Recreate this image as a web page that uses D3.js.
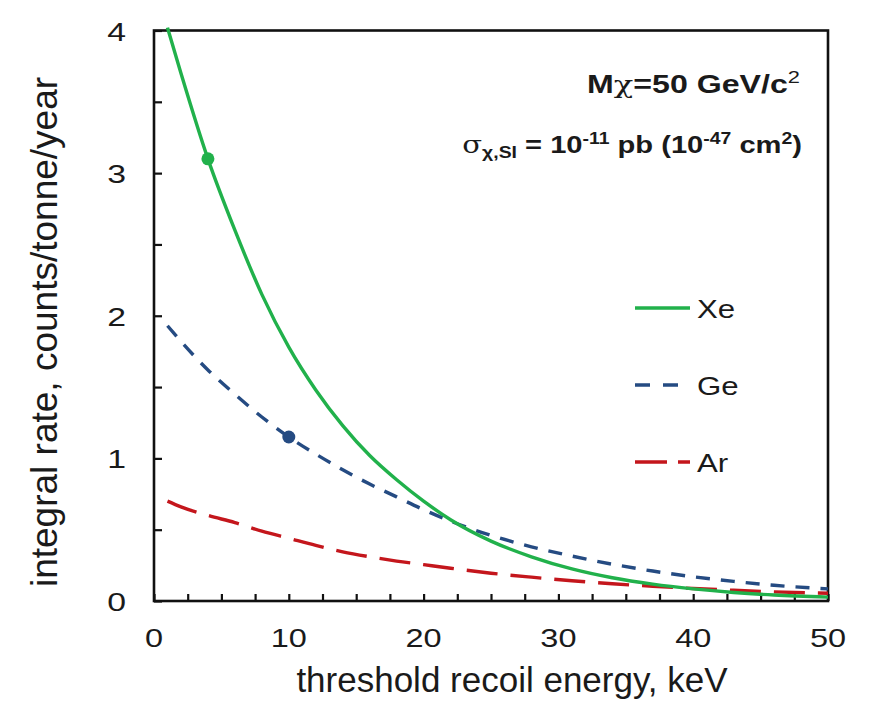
<!DOCTYPE html>
<html>
<head>
<meta charset="utf-8">
<script src="https://cdn.jsdelivr.net/npm/d3@7"></script>
<style>
  body { margin: 0; background: #fff; }
  text { font-family: "Liberation Sans", Arial, sans-serif; fill: #1a1a1a; }
</style>
</head>
<body>
<div id="graphe"></div>
<script>
// energies (keV) et taux integres (counts/tonne/year)
const energies = [1, 2, 4, 6, 8, 10, 12, 14, 16, 18, 20, 22, 25, 28, 31, 34, 37, 40, 43, 46, 50];
const tauxXe = [4.02, 3.70, 3.10, 2.60, 2.15, 1.78, 1.48, 1.23, 1.02, 0.85, 0.70, 0.57, 0.42, 0.31, 0.225, 0.163, 0.118, 0.085, 0.060, 0.042, 0.027];
const tauxGe = [1.93, 1.82, 1.62, 1.45, 1.29, 1.15, 1.03, 0.92, 0.82, 0.73, 0.64, 0.56, 0.46, 0.38, 0.315, 0.258, 0.21, 0.17, 0.138, 0.11, 0.085];
const tauxAr = [0.70, 0.66, 0.60, 0.55, 0.49, 0.44, 0.39, 0.345, 0.31, 0.28, 0.255, 0.23, 0.195, 0.167, 0.142, 0.121, 0.103, 0.088, 0.075, 0.064, 0.054];
const pointsXe = [[4, 3.1]];
const pointsGe = [[10, 1.15]];
const ticksX = [0, 10, 20, 30, 40, 50];
const ticksY = [0, 1, 2, 3, 4];
const nomsSeries = ["Xe", "Ge", "Ar"];

const largeur = 876, hauteur = 701;
const gauche = 154, droite = 828, haut = 30.5, bas = 601;

const svg = d3.select("#graphe").append("svg")
    .attr("width", largeur)
    .attr("height", hauteur);

const x = d3.scaleLinear().domain([0, 50]).range([gauche, droite]);
const y = d3.scaleLinear().domain([0, 4]).range([bas, haut]);

// etire un texte horizontalement autour de son ancre
function etire(texte, ax, ay, facteur) {
    texte.attr("transform", "translate(" + ax + "," + ay + ") scale(" + facteur + ",1)");
}
// ajuste la largeur d'un texte (ancre a droite) a une largeur cible
function ajusteLargeur(texte, ax, ay, cible) {
    const l = texte.node().getBBox().width;
    etire(texte, ax, ay, cible / l);
}

// graduations vers l'interieur
const axeX = svg.append("g").attr("transform", "translate(0," + bas + ")")
    .call(d3.axisBottom(x).tickValues(d3.range(0, 50.1, 2.5)).tickSize(-7).tickFormat(""));
const axeY = svg.append("g").attr("transform", "translate(" + gauche + ",0)")
    .call(d3.axisLeft(y).tickValues(d3.range(0, 4.01, 0.5)).tickSize(-8).tickFormat(""));
[axeX, axeY].forEach(function (a) {
    a.select(".domain").remove();
    a.selectAll("line").attr("stroke", "#111").attr("stroke-width", 2.2);
});

// cadre
svg.append("rect")
    .attr("x", gauche).attr("y", haut)
    .attr("width", droite - gauche).attr("height", bas - haut)
    .attr("fill", "none").attr("stroke", "#111").attr("stroke-width", 2.6);

// etiquettes
svg.append("g").selectAll("text").data(ticksX).join("text")
    .attr("text-anchor", "middle")
    .attr("font-size", 26)
    .text(function (d) { return d; })
    .each(function (d) { etire(d3.select(this), x(d), 647, 1.25); });

svg.append("g").selectAll("text").data(ticksY).join("text")
    .attr("text-anchor", "end")
    .attr("font-size", 26)
    .text(function (d) { return d; })
    .each(function (d) { etire(d3.select(this), 126, y(d) + 10, 1.3); });

svg.append("text")
    .attr("x", 512).attr("y", 692)
    .attr("text-anchor", "middle")
    .attr("font-size", 35)
    .text("threshold recoil energy, keV");

svg.append("text")
    .attr("transform", "translate(57,332) rotate(-90)")
    .attr("text-anchor", "middle")
    .attr("font-size", 37)
    .text("integral rate, counts/tonne/year");

// courbes
const ligne = d3.line()
    .x(function (d) { return x(d[0]); })
    .y(function (d) { return y(d[1]); })
    .curve(d3.curveMonotoneX);

const styles = {
    Xe: { couleur: "#21b14b", tirets: null, legende: null, valeurs: tauxXe },
    Ge: { couleur: "#254b82", tirets: "14,11", legende: "15,13", valeurs: tauxGe },
    Ar: { couleur: "#c4161c", tirets: "31,13", legende: "32,11", valeurs: tauxAr }
};

nomsSeries.slice().reverse().forEach(function (nom) {
    const s = styles[nom];
    svg.append("path")
        .datum(energies.map(function (e, i) { return [e, s.valeurs[i]]; }))
        .attr("d", ligne)
        .attr("fill", "none")
        .attr("stroke", s.couleur)
        .attr("stroke-width", 3.4)
        .attr("stroke-dasharray", s.tirets);
});

svg.append("g").selectAll("circle").data(pointsXe).join("circle")
    .attr("cx", function (d) { return x(d[0]); })
    .attr("cy", function (d) { return y(d[1]); })
    .attr("r", 6.5).attr("fill", styles.Xe.couleur);
svg.append("g").selectAll("circle").data(pointsGe).join("circle")
    .attr("cx", function (d) { return x(d[0]); })
    .attr("cy", function (d) { return y(d[1]); })
    .attr("r", 6.5).attr("fill", styles.Ge.couleur);

// legende
const legende = svg.append("g");
const finLegende = { Xe: 690, Ge: 678, Ar: 690 };
nomsSeries.forEach(function (nom, i) {
    const s = styles[nom];
    const yl = 308 + i * 77;
    legende.append("line")
        .attr("x1", 635).attr("x2", finLegende[nom])
        .attr("y1", yl).attr("y2", yl)
        .attr("stroke", s.couleur).attr("stroke-width", 3.4)
        .attr("stroke-dasharray", s.legende);
    const t = legende.append("text")
        .attr("font-size", 26)
        .text(nom);
    etire(t, 697, yl + 10, 1.2);
});

// annotations
const t1 = svg.append("text")
    .attr("text-anchor", "end")
    .attr("font-size", 25).attr("font-weight", "bold");
t1.append("tspan").text("M");
t1.append("tspan").attr("font-family", "DejaVu Serif").attr("font-weight", "normal").text("χ");
t1.append("tspan").text("=50 GeV/c");
t1.append("tspan").attr("font-size", 17).attr("font-weight", "normal").attr("dy", -10).text("2");
ajusteLargeur(t1, 800, 93, 213);

const t2 = svg.append("text")
    .attr("text-anchor", "end")
    .attr("font-size", 24).attr("font-weight", "bold");
t2.append("tspan").attr("font-family", "DejaVu Serif").attr("font-weight", "normal").text("σ");
t2.append("tspan").attr("font-size", 16).attr("dy", 5).text("χ,SI");
t2.append("tspan").attr("dy", -5).text(" = 10");
t2.append("tspan").attr("font-size", 16).attr("dy", -9).text("-11");
t2.append("tspan").attr("dy", 9).text(" pb (10");
t2.append("tspan").attr("font-size", 16).attr("dy", -9).text("-47");
t2.append("tspan").attr("dy", 9).text(" cm");
t2.append("tspan").attr("font-size", 16).attr("dy", -9).text("2");
t2.append("tspan").attr("dy", 9).text(")");
ajusteLargeur(t2, 802, 153, 340);
</script>
</body>
</html>
